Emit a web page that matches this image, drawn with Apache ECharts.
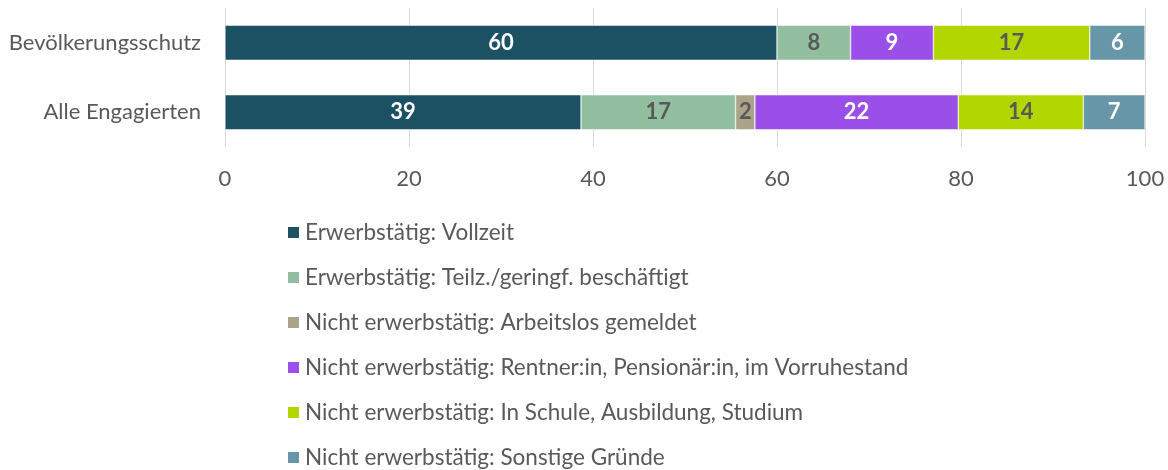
<!DOCTYPE html>
<html>
<head>
<meta charset="utf-8">
<script src="https://cdn.jsdelivr.net/npm/echarts@6/dist/echarts.min.js"></script>
<style>html,body{margin:0;padding:0;background:#fff}#c{width:1168px;height:470px}</style>
</head>
<body>
<div id="c"></div>
<script>
const categories = ['Alle Engagierten', 'Bevölkerungsschutz'];
const seriesNames = [
  'Erwerbstätig: Vollzeit',
  'Erwerbstätig: Teilz./geringf. beschäftigt',
  'Nicht erwerbstätig: Arbeitslos gemeldet',
  'Nicht erwerbstätig: Rentner:in, Pensionär:in, im Vorruhestand',
  'Nicht erwerbstätig: In Schule, Ausbildung, Studium',
  'Nicht erwerbstätig: Sonstige Gründe'
];
const vollzeit = [38.7, 60];
const teilzeit = [16.8, 8];
const arbeitslos = [2.1, null];
const rentner = [22.1, 9];
const schule = [13.6, 17];
const sonstige = [6.7, 6];
const xTicks = [0, 20, 40, 60, 80, 100];

const values = [vollzeit, teilzeit, arbeitslos, rentner, schule, sonstige];
const colors = ['#1c5163', '#92bfa0', '#aba48a', '#9a50e8', '#b2d600', '#6796a8'];
const labelColors = ['#ffffff', '#595959', '#595959', '#ffffff', '#595959', '#ffffff'];
const FONT = 'Lato, sans-serif';
const FS = 22;

const chart = echarts.init(document.getElementById('c'));
chart.setOption({
  animation: false,
  textStyle: { fontFamily: FONT },
  grid: { left: 225, right: 23, top: 8, height: 139, containLabel: false },
  xAxis: {
    type: 'value', min: xTicks[0], max: xTicks[xTicks.length - 1], interval: 20,
    axisLine: { show: false }, axisTick: { show: false },
    splitLine: { lineStyle: { color: '#d9d9d9', width: 1 } },
    axisLabel: { color: '#595959', fontSize: FS, margin: 21, fontFamily: FONT }
  },
  yAxis: {
    type: 'category', data: categories,
    axisLine: { show: false }, axisTick: { show: false },
    axisLabel: { color: '#595959', fontSize: FS, margin: 24, fontFamily: FONT }
  },
  legend: {
    orient: 'vertical', left: 281, top: 216, height: 254,
    itemWidth: 13, itemHeight: 13, itemGap: 22,
    icon: 'rect',
    textStyle: { color: '#595959', fontSize: 22.5, lineHeight: 22, fontFamily: FONT },
    data: seriesNames
  },
  series: seriesNames.map((name, i) => ({
    name, type: 'bar', stack: 'total', barWidth: 35,
    data: values[i],
    itemStyle: { color: colors[i], borderColor: '#ffffff', borderWidth: 0.5 },
    label: {
      show: true, position: 'inside', color: labelColors[i],
      fontSize: FS, fontWeight: 'bold', fontFamily: FONT,
      formatter: p => p.value == null ? '' : Math.round(p.value).toString()
    }
  }))
});
</script>
</body>
</html>
